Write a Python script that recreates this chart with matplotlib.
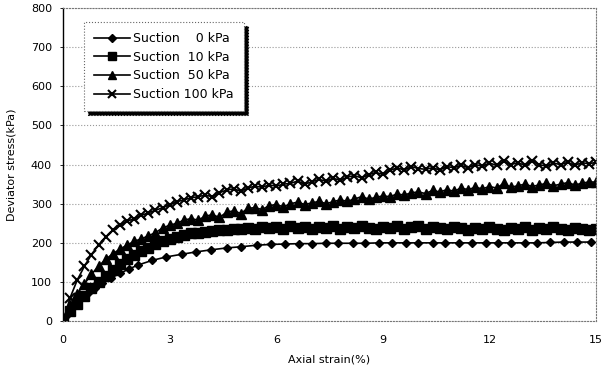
import numpy as np
import matplotlib.pyplot as plt

plt.rcParams['font.family'] = ['DejaVu Sans']

# Suction 0 kPa (diamonds)
strain_0 = [0, 0.1, 0.2, 0.35, 0.5, 0.7, 0.9, 1.1, 1.35, 1.6, 1.85, 2.1, 2.5, 2.9, 3.35,
            3.75, 4.15, 4.6, 5.0, 5.45, 5.85, 6.25, 6.65, 7.0, 7.4, 7.75, 8.15, 8.5, 8.9,
            9.25, 9.65, 10.0, 10.4, 10.75, 11.15, 11.5, 11.9, 12.25, 12.6, 13.0, 13.35,
            13.7, 14.1, 14.45, 14.85]
stress_0 = [0, 15, 30, 45, 58, 72, 85, 97, 110, 122, 133, 143, 155, 164, 171,
            177, 182, 187, 190, 194, 196, 197, 198, 198, 199, 199, 199, 199, 200,
            200, 200, 200, 200, 200, 200, 200, 200, 200, 200, 200, 200,
            201, 202, 202, 202]

# common strain grid for the densely sampled tests
strain = np.round(np.arange(0, 15.01, 0.2), 1)

stress_10 = [0, 25, 45, 65, 85, 100, 115, 130, 145, 158, 168, 178, 188, 196, 204, 210,
             215, 220, 224, 226, 228, 230, 232, 234, 236, 235, 238, 236, 240, 238, 240,
             236, 242, 238, 240, 236, 240, 238, 242, 236, 240, 238, 242, 238, 236, 240,
             238, 242, 236, 240, 244, 236, 240, 238, 236, 240, 238, 234, 238, 236, 240,
             236, 234, 238, 236, 240, 234, 238, 236, 240, 236, 234, 238, 236, 234, 236]

stress_50 = [0, 40, 70, 95, 120, 140, 158, 172, 184, 194, 204, 210, 218, 226, 238, 245,
             250, 258, 262, 258, 268, 272, 265, 278, 282, 275, 288, 290, 285, 295, 298,
             292, 300, 304, 298, 302, 306, 300, 305, 310, 306, 312, 318, 312, 316, 320,
             318, 325, 322, 328, 330, 326, 334, 330, 336, 332, 340, 336, 342, 338, 344,
             340, 352, 342, 346, 350, 344, 348, 352, 346, 350, 354, 348, 352, 356, 355]

stress_100 = [0, 60, 105, 140, 170, 195, 215, 232, 245, 255, 262, 270, 277, 283, 290, 297,
              305, 310, 315, 318, 322, 318, 328, 335, 338, 332, 340, 345, 342, 348, 345,
              350, 352, 358, 350, 356, 362, 358, 365, 360, 368, 372, 366, 374, 380, 375,
              385, 392, 386, 395, 390, 388, 392, 386, 395, 392, 398, 392, 400, 396, 404,
              398, 408, 400, 405, 398, 410, 400, 396, 404, 400, 406, 398, 405, 402, 406]

labels = ['Suction    0 kPa', 'Suction  10 kPa', 'Suction  50 kPa', 'Suction 100 kPa']

fig = plt.figure(figsize=(6.12, 3.67), dpi=100)
ax = fig.add_axes([0.103, 0.125, 0.871, 0.853])

ax.plot(strain_0, stress_0, color='black', lw=1.2, marker='D', ms=4.5, label=labels[0])
ax.plot(strain, stress_10, color='black', lw=1.2, marker='s', ms=6.5, label=labels[1])
ax.plot(strain, stress_50, color='black', lw=1.2, marker='^', ms=6.5, label=labels[2])
ax.plot(strain, stress_100, color='black', lw=1.2, marker='x', ms=6.5, mew=1.5, label=labels[3])

ax.set_xlim(0, 15)
ax.set_ylim(0, 800)
ax.set_xticks([0, 3, 6, 9, 12, 15])
ax.set_yticks(range(0, 801, 100))
ax.yaxis.grid(True, color='#999999', ls=':', lw=0.8)
ax.set_axisbelow(True)

for side in ['top', 'right', 'bottom']:
    ax.spines[side].set_color('#777777')
    ax.spines[side].set_linestyle(':')
ax.spines['left'].set_linewidth(1.0)
ax.tick_params(axis='y', labelsize=8, length=2, width=0.6, pad=6)
ax.tick_params(axis='x', labelsize=8, length=0, pad=10)

ax.set_xlabel('Axial strain(%)', fontsize=8, labelpad=7)
ax.set_ylabel('Deviator stress(kPa)', fontsize=8, labelpad=10)

leg = ax.legend(loc='upper left', bbox_to_anchor=(0.027, 0.975), fontsize=9,
                handlelength=2.9, handletextpad=0.25, frameon=True, fancybox=False,
                shadow={'color': 'black', 'alpha': 1, 'ox': 3, 'oy': -3},
                borderpad=0.8, labelspacing=0.45, markerscale=0.8)
leg.get_frame().set_edgecolor('#666666')
leg.get_frame().set_linestyle(':')
leg.get_frame().set_linewidth(0.8)

fig.savefig('out.png', dpi=100)
